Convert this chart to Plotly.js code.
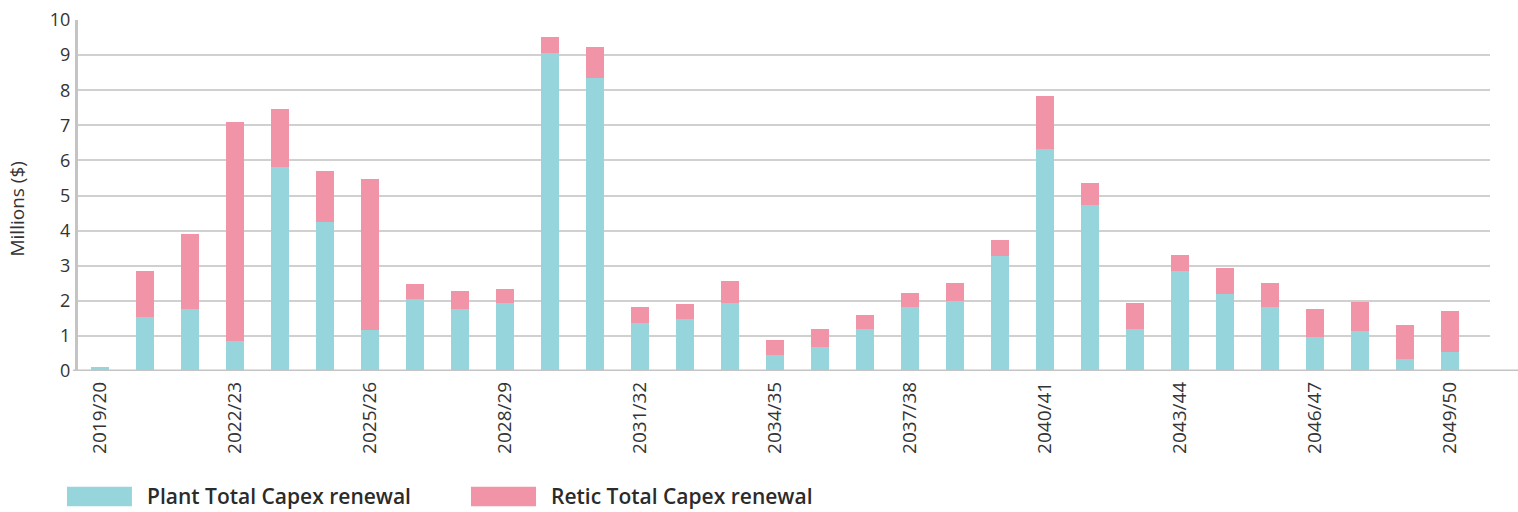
<!DOCTYPE html>
<html>
<head>
<meta charset="utf-8">
<script src="https://cdn.plot.ly/plotly-3.0.1.min.js"></script>
<style>
  html, body { margin: 0; padding: 0; background: #ffffff; }
  #chart { width: 1518px; height: 512px; }
</style>
</head>
<body>
<div id="chart"></div>
<script>
const categories = [
  "2019/20","2020/21","2021/22","2022/23","2023/24","2024/25","2025/26","2026/27",
  "2027/28","2028/29","2029/30","2030/31","2031/32","2032/33","2033/34","2034/35",
  "2035/36","2036/37","2037/38","2038/39","2039/40","2040/41","2041/42","2042/43",
  "2043/44","2044/45","2045/46","2046/47","2047/48","2048/49","2049/50"
];
const plantValues = [
  0.11, 1.53, 1.76, 0.86, 5.80, 4.25, 1.17, 2.04,
  1.76, 1.93, 9.07, 8.36, 1.38, 1.47, 1.95, 0.45,
  0.67, 1.21, 1.83, 2.00, 3.29, 6.32, 4.74, 1.21,
  2.86, 2.20, 1.83, 0.98, 1.15, 0.35, 0.55
];
const reticValues = [
  0.00, 1.33, 2.15, 6.24, 1.67, 1.46, 4.31, 0.45,
  0.53, 0.42, 0.46, 0.88, 0.45, 0.45, 0.62, 0.44,
  0.54, 0.39, 0.40, 0.52, 0.45, 1.52, 0.63, 0.74,
  0.45, 0.74, 0.69, 0.80, 0.83, 0.97, 1.17
];
const seriesNames = ["Plant Total Capex renewal", "Retic Total Capex renewal"];
const yAxisTitle = "Millions ($)";
const tickLabels = categories.filter((c, i) => i % 3 === 0);

const TEAL = "#96d5db";
const PINK = "#f294a8";
const FONT = "Open Sans, Noto Sans, sans-serif";

const traces = [
  { type: "bar", name: seriesNames[0], x: categories, y: plantValues,
    marker: { color: TEAL, line: { width: 0 } }, width: 0.4, showlegend: false },
  { type: "bar", name: seriesNames[1], x: categories, y: reticValues,
    marker: { color: PINK, line: { width: 0 } }, width: 0.4, showlegend: false }
];

const layout = {
  width: 1518, height: 512,
  margin: { l: 78, r: 28, t: 20, b: 141, pad: 0 },
  paper_bgcolor: "#ffffff", plot_bgcolor: "#ffffff",
  barmode: "stack",
  showlegend: false,
  font: { family: FONT, color: "#333333", size: 16 },
  xaxis: {
    type: "category",
    range: [-0.49, 30.89],
    tickmode: "array",
    tickvals: tickLabels,
    ticktext: tickLabels,
    tickangle: -90,
    tickfont: { family: FONT, size: 19, color: "#333333" },
    ticks: "",
    ticklabelstandoff: 6,
    showgrid: false,
    showline: false,
    zeroline: false,
    fixedrange: true
  },
  yaxis: {
    range: [0, 10],
    dtick: 1,
    tick0: 0,
    tickfont: { family: FONT, size: 18, color: "#333333" },
    ticks: "",
    ticklabelstandoff: 1,
    showgrid: true,
    gridcolor: "#d0d0d0",
    gridwidth: 2,
    showline: true,
    linecolor: "#c4c4c4",
    linewidth: 3,
    zeroline: false,
    fixedrange: true
  },
  shapes: [
    { type: "line", xref: "paper", yref: "y", x0: -0.0035, x1: 1.03, y0: 0, y1: 0,
      line: { color: "#c4c4c4", width: 3 } },
    { type: "rect", xref: "paper", yref: "paper",
      x0: -0.0078, x1: 0.0382, y0: -0.330, y1: -0.385,
      fillcolor: TEAL, line: { width: 0 } },
    { type: "rect", xref: "paper", yref: "paper",
      x0: 0.2783, x1: 0.3244, y0: -0.330, y1: -0.385,
      fillcolor: PINK, line: { width: 0 } }
  ],
  annotations: [
    { xref: "paper", yref: "paper", x: -0.0432, y: 0.46, xanchor: "center", yanchor: "middle",
      text: yAxisTitle, textangle: -90, showarrow: false,
      font: { family: FONT, size: 19, color: "#333333" } },
    { xref: "paper", yref: "paper", x: 0.0474, y: -0.357, xanchor: "left", yanchor: "middle",
      text: seriesNames[0], showarrow: false,
      font: { family: FONT, size: 21, color: "#2b2b2b", weight: 600 } },
    { xref: "paper", yref: "paper", x: 0.3336, y: -0.357, xanchor: "left", yanchor: "middle",
      text: seriesNames[1], showarrow: false,
      font: { family: FONT, size: 21, color: "#2b2b2b", weight: 600 } }
  ]
};

Plotly.newPlot("chart", traces, layout, { displayModeBar: false, staticPlot: true });
</script>
</body>
</html>
